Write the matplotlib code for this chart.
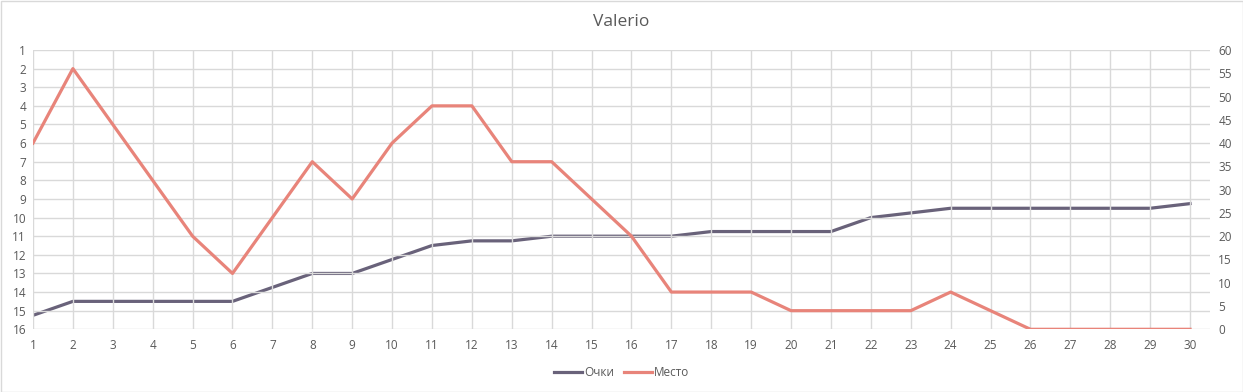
import matplotlib.pyplot as plt
from matplotlib.patches import Rectangle

# rounds 1..30
rounds = list(range(1, 31))
# points (right axis)
points = [3, 6, 6, 6, 6, 6, 9, 12, 12, 15, 18, 19, 19, 20, 20, 20, 20, 21, 21, 21,
          21, 24, 25, 26, 26, 26, 26, 26, 26, 27]
# place (left axis, inverted)
place = [6, 2, 5, 8, 11, 13, 10, 7, 9, 6, 4, 4, 7, 7, 9, 11, 14, 14, 14, 15,
         15, 15, 15, 14, 15, 16, 16, 16, 16, 16]

plt.rcParams['font.family'] = ['Open Sans', 'DejaVu Sans']
text_col = '#595959'
grid_col = '#D9D9D9'
col_points = '#69627A'
col_place = '#E8847A'

fig = plt.figure(figsize=(12.43, 3.92), dpi=100)
ax = fig.add_axes([33 / 1243, 1 - 329.3 / 392, (1210 - 33) / 1243, (329.3 - 50) / 392])
ax2 = ax.twinx()

ax.set_xlim(1, 30.5)
ax.set_ylim(16, 1)
ax.set_yticks(range(1, 17))
ax.set_xticks(rounds)
ax2.set_ylim(0, 60)
ax2.set_yticks(range(0, 61, 5))

ax.grid(True, color=grid_col, linewidth=1)
ax.set_axisbelow(True)
for a in (ax, ax2):
    for s in a.spines.values():
        s.set_visible(False)
    a.tick_params(length=0, labelsize=8.5, labelcolor=text_col)
ax.tick_params(axis='y', pad=5)
ax.tick_params(axis='x', pad=7)
ax2.tick_params(axis='y', pad=6)

l2, = ax.plot(rounds, place, color=col_place, linewidth=2.3, label='Место', zorder=3)
l1, = ax2.plot(rounds, points, color=col_points, linewidth=2.3, label='Очки', zorder=3)
ax.set_zorder(ax2.get_zorder() + 1)
ax.patch.set_visible(False)

fig.text(0.5, 0.944, 'Valerio', ha='center', va='center', fontsize=12.5, color=text_col)
fig.legend(handles=[l1, l2], loc='center', bbox_to_anchor=(0.5, 0.05), ncol=2,
           frameon=False, fontsize=8.5, labelcolor=text_col, handlelength=2.4,
           handletextpad=0.15, columnspacing=0.8)

fig.patches.append(Rectangle((0.5 / 1243, 0.5 / 392), 1 - 1 / 1243, 1 - 1 / 392,
                             transform=fig.transFigure, fill=False,
                             edgecolor=grid_col, linewidth=1))

fig.savefig('out.png', dpi=100)
